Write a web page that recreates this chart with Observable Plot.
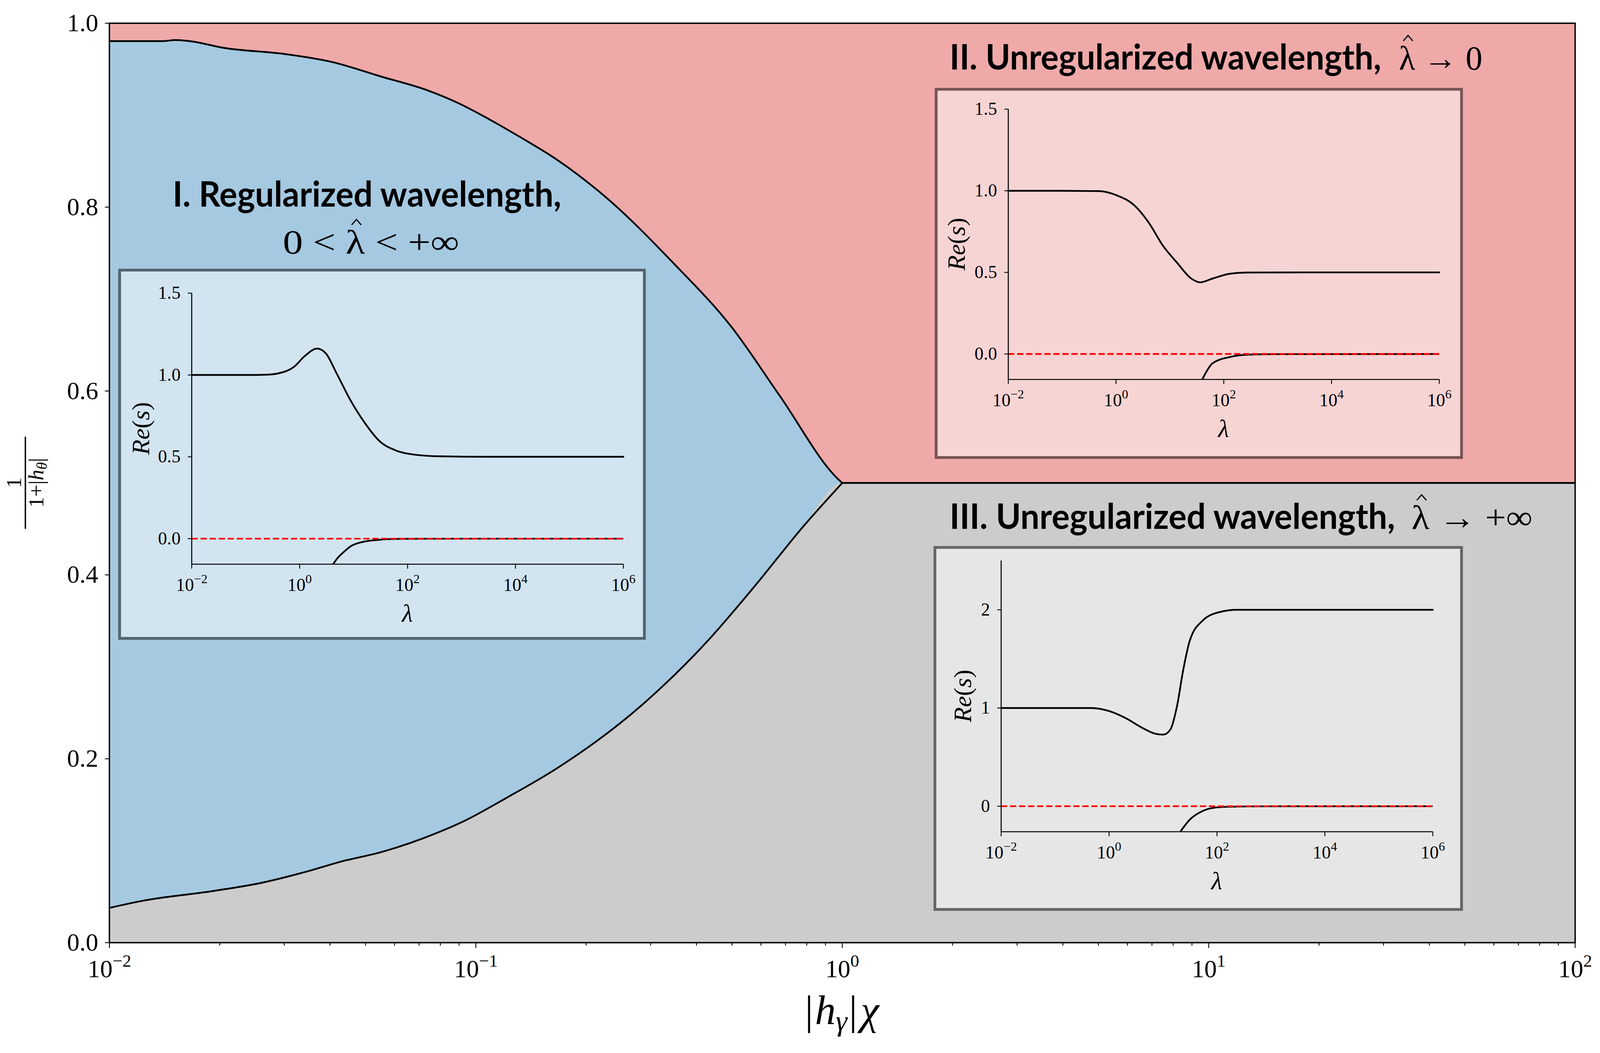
<!DOCTYPE html>
<html><head><meta charset="utf-8">
<script src="https://cdn.jsdelivr.net/npm/d3@7"></script>
<script src="https://cdn.jsdelivr.net/npm/@observablehq/plot@0.6"></script>
<style>html,body{margin:0;padding:0;background:#fff;overflow:hidden}</style>
</head><body><div id="chart"></div>
<script>
// ---------- main phase diagram data (x = |h_gamma| chi, y = 1/(1+|h_theta|)) ----------
const upperX = [0.01, 0.01406, 0.01514, 0.01652, 0.02065, 0.02999, 0.04036, 0.05534, 0.07311, 0.08933, 0.1089, 0.1318, 0.1663, 0.2275, 0.3443, 0.5000, 0.673, 0.975, 1];
const upperY = [0.9806, 0.9806, 0.9817, 0.9806, 0.973, 0.9666, 0.958, 0.9418, 0.9276, 0.9133, 0.8954, 0.8764, 0.8517, 0.810, 0.740, 0.669, 0.5956, 0.504, 0.5];
const lowerX = [0.01, 0.0123, 0.0192, 0.0258, 0.0348, 0.0427, 0.0553, 0.0719, 0.0933, 0.121, 0.1663, 0.2838, 0.4305, 0.5794, 0.78, 1];
const lowerY = [0.0378, 0.0455, 0.0562, 0.0648, 0.0777, 0.088, 0.0986, 0.1136, 0.1326, 0.1573, 0.1895, 0.2584, 0.3288, 0.3887, 0.452, 0.5];
const sepX = [1, 100];
const sepY = [0.5, 0.5];

const mainXMajor = [0.01, 0.1, 1, 10, 100];
const mainXMinor = [0.02,0.03,0.04,0.05,0.06,0.07,0.08,0.09,0.2,0.3,0.4,0.5,0.6,0.7,0.8,0.9,2,3,4,5,6,7,8,9,20,30,40,50,60,70,80,90];
const mainYTicks = [0, 0.2, 0.4, 0.6, 0.8, 1.0];

// ---------- inset data (x = lambda, y = Re(s)) ----------
const insetXTicks = [0.01, 1, 100, 1e4, 1e6];

const i1UpperL = [0.01, 0.1, 0.25, 0.43, 0.79, 1.24, 2.11, 3.09, 4.86, 8.91, 16.4, 30.0, 64.0, 136, 394, 3162, 1e6];
const i1UpperV = [1.0, 1.0, 1.002, 1.012, 1.05, 1.115, 1.161, 1.13, 1.009, 0.841, 0.704, 0.597, 0.536, 0.513, 0.503, 0.5, 0.5];
const i1LowerL = [4.17, 5.0, 6.6, 8.9, 14.8, 27, 44, 100, 1000, 1e6];
const i1LowerV = [-0.156, -0.12, -0.081, -0.046, -0.02, -0.008, -0.003, -0.001, 0, 0];

const i2UpperL = [0.01, 0.1, 0.48, 1.03, 2.2, 4.05, 7.4, 13.6, 25, 36.5, 61.7, 132, 282, 3000, 1e6];
const i2UpperV = [1.0, 1.0, 0.998, 0.972, 0.91, 0.805, 0.664, 0.559, 0.462, 0.439, 0.462, 0.492, 0.499, 0.5, 0.5];
const i2LowerL = [39.8, 49.3, 61.7, 132, 282, 1000, 1e6];
const i2LowerV = [-0.156, -0.1, -0.057, -0.018, -0.004, -0.001, 0];

const i3UpperL = [0.01, 0.47, 0.97, 2.01, 4.18, 7.23, 10.1, 13.7, 18.1, 23.8, 31.3, 54, 112, 234, 1e6];
const i3UpperV = [1.0, 1.0, 0.971, 0.898, 0.796, 0.738, 0.729, 0.781, 1.015, 1.394, 1.685, 1.889, 1.977, 2.0, 2.0];
const i3LowerL = [20.9, 31.3, 54, 93.5, 162, 1000, 1e6];
const i3LowerV = [-0.26, -0.137, -0.049, -0.014, -0.006, -0.001, 0];

const yTicks12 = [0, 0.5, 1.0, 1.5];
const yTicks3 = [0, 1, 2];

// ---------- layout: reference geometry is 5171x2696, mapped onto the actual viewport ----------
const W = window.innerWidth || 5171, H = window.innerHeight || 2696;
const sx = W / 5171, sy = H / 2696, fsc = Math.sqrt(sx * sy);
const X = v => v * sx, Y = v => v * sy, F = v => v * fsc;

const SERIF = "'Liberation Serif','DejaVu Serif',serif";
const SANS = "Lato,'Open Sans',sans-serif";
const BLUE = "#a5c9e1", RED = "#efa9a9", GREY = "#cccccc";
const NS = "http://www.w3.org/2000/svg";

const zip = (xs, ys) => xs.map((x, i) => ({x, y: ys[i]}));
const pow = d => "10^" + String(Math.round(Math.log10(d))).replace("-", "\u2212");

function supify(svg, fs) {
  svg.querySelectorAll('g[aria-label="x-axis tick label"] text').forEach(t => {
    const s = t.textContent; const i = s.indexOf("^"); if (i < 0) return;
    t.textContent = "";
    const a = document.createElementNS(NS, "tspan"); a.textContent = s.slice(0, i); t.appendChild(a);
    const b = document.createElementNS(NS, "tspan"); b.textContent = s.slice(i + 1);
    b.setAttribute("dy", -0.42 * fs); b.setAttribute("font-size", 0.7 * fs); t.appendChild(b);
  });
}

const upper = zip(upperX, upperY), lower = zip(lowerX, lowerY), sep = zip(sepX, sepY);
const greyData = lower.concat(sep);

const mainTickFont = F(72);
const main = Plot.plot({
  width: W, height: H,
  marginLeft: X(353), marginRight: X(81), marginTop: Y(59), marginBottom: Y(283),
  x: {type: "log", domain: [0.01, 100], label: null},
  y: {domain: [0, 1], label: null},
  style: {background: "white", fontFamily: SERIF, fontSize: mainTickFont + "px"},
  marks: [
    Plot.frame({fill: RED, stroke: null}),
    Plot.areaY(upper, {x: "x", y1: 0, y2: "y", fill: BLUE, curve: "monotone-x"}),
    Plot.areaY(greyData, {x: "x", y1: 0, y2: "y", fill: GREY, curve: "monotone-x"}),
    Plot.line(upper, {x: "x", y: "y", stroke: "black", strokeWidth: F(5), curve: "monotone-x"}),
    Plot.line(lower, {x: "x", y: "y", stroke: "black", strokeWidth: F(5), curve: "monotone-x"}),
    Plot.line(sep, {x: "x", y: "y", stroke: "black", strokeWidth: F(5)}),
    Plot.frame({stroke: "black", strokeWidth: F(4)}),
    Plot.axisX({ticks: mainXMinor, tickSize: Y(8), tickFormat: () => "", strokeWidth: F(2.5), label: null}),
    Plot.axisX({ticks: mainXMajor, tickSize: Y(14), tickPadding: Y(88) - Y(14) - 0.71 * mainTickFont,
                tickFormat: pow, strokeWidth: F(2.5), fontSize: mainTickFont, label: null}),
    Plot.axisY({ticks: mainYTicks, tickSize: X(14), tickPadding: X(22), tickFormat: d3.format(".1f"),
                strokeWidth: F(2.5), fontSize: mainTickFont, label: null})
  ]
});
supify(main, mainTickFont);
main.style.width = W + "px";
main.style.height = H + "px";
main.style.maxWidth = "none";
main.style.display = "block";
document.getElementById("chart").appendChild(main);
const M = d3.select(main);

// ---------- insets ----------
const insets = [
  {x: 382, y: 688, w: 1705, h: 950, ml: 237, mr: 73, mt: 62, mb: 194, yDomain: [-0.156, 1.5], yTicks: yTicks12, fmt: d3.format(".1f"),
   upper: zip(i1UpperL, i1UpperV), lower: zip(i1LowerL, i1LowerV), labX: 80},
  {x: 3021, y: 225, w: 1707, h: 950, ml: 237, mr: 77, mt: 54, mb: 204, yDomain: [-0.156, 1.5], yTicks: yTicks12, fmt: d3.format(".1f"),
   upper: zip(i2UpperL, i2UpperV), lower: zip(i2LowerL, i2LowerV), labX: 77},
  {x: 3017, y: 1398, w: 1711, h: 934, ml: 218, mr: 98, mt: 37, mb: 203, yDomain: [-0.26, 2.5], yTicks: yTicks3, fmt: d3.format("d"),
   upper: zip(i3UpperL, i3UpperV), lower: zip(i3LowerL, i3LowerV), labX: 101}
];

const insetFont = F(52), labelFont = F(72), bw = F(8);
for (const c of insets) {
  const bx = X(c.x), by = Y(c.y), bwid = X(c.w), bht = Y(c.h);
  M.append("rect").attr("x", bx + bw).attr("y", by + bw).attr("width", bwid - 2 * bw).attr("height", bht - 2 * bw)
    .attr("fill", "white").attr("fill-opacity", 0.5);
  M.append("rect").attr("x", bx + bw / 2).attr("y", by + bw / 2).attr("width", bwid - bw).attr("height", bht - bw)
    .attr("fill", "none").attr("stroke", "black").attr("stroke-opacity", 0.5).attr("stroke-width", bw);
  const s = Plot.plot({
    width: bwid, height: bht, marginLeft: X(c.ml), marginRight: X(c.mr), marginTop: Y(c.mt), marginBottom: Y(c.mb),
    x: {type: "log", domain: [0.01, 1e6], label: null},
    y: {domain: c.yDomain, label: null},
    style: {background: "none", fontFamily: SERIF, fontSize: insetFont + "px", overflow: "visible"},
    marks: [
      Plot.line(c.upper, {x: "x", y: "y", stroke: "black", strokeWidth: F(5), curve: "monotone-x"}),
      Plot.line(c.lower, {x: "x", y: "y", stroke: "black", strokeWidth: F(5), curve: "monotone-x", clip: true}),
      Plot.ruleY([0], {stroke: "red", strokeWidth: F(5), strokeDasharray: `${F(18)},${F(8)}`}),
      Plot.ruleY([c.yDomain[0]], {stroke: "black", strokeWidth: F(3)}),
      Plot.ruleX([0.01], {stroke: "black", strokeWidth: F(3)}),
      Plot.axisX({ticks: insetXTicks, tickFormat: pow, tickSize: Y(12), tickPadding: Y(68) - Y(12) - 0.71 * insetFont,
                  strokeWidth: F(2.5), fontSize: insetFont, label: null}),
      Plot.axisY({ticks: c.yTicks, tickFormat: c.fmt, tickSize: X(12), tickPadding: X(24),
                  strokeWidth: F(2.5), fontSize: insetFont, label: null})
    ]
  });
  supify(s, insetFont);
  s.setAttribute("x", bx); s.setAttribute("y", by);
  s.style.width = bwid + "px";
  s.style.height = bht + "px";
  s.style.maxWidth = "none";
  main.appendChild(s);
  const midY = Y(c.y + c.mt + (c.h - c.mt - c.mb) / 2);
  const axBottom = c.y + c.h - c.mb;
  const axMidX = X(c.x + c.ml + (c.w - c.ml - c.mr) / 2);
  const yl = M.append("text").attr("transform", `translate(${X(c.x + c.labX)},${midY}) rotate(-90)`)
    .attr("y", labelFont * 0.25).attr("text-anchor", "middle").attr("font-family", SERIF).attr("font-size", labelFont);
  yl.append("tspan").attr("font-style", "italic").text("Re");
  yl.append("tspan").text("(");
  yl.append("tspan").attr("font-style", "italic").text("s");
  yl.append("tspan").text(")");
  M.append("text").attr("x", axMidX).attr("y", Y(axBottom + 148)).attr("text-anchor", "middle")
    .attr("font-family", SERIF).attr("font-style", "italic").attr("font-size", labelFont).text("λ");
}

// ---------- main axis labels ----------
const xf = F(120);
const xl = M.append("text").attr("x", X(2721)).attr("y", Y(2622)).attr("text-anchor", "middle")
  .attr("font-family", SERIF).attr("font-size", xf);
xl.append("tspan").text("|");
xl.append("tspan").attr("font-style", "italic").attr("dx", xf * 0.04).text("h");
xl.append("tspan").attr("font-style", "italic").attr("font-size", xf * 0.7).attr("dy", xf * 0.15).text("γ");
xl.append("tspan").attr("dy", -xf * 0.15).attr("dx", xf * 0.04).text("|");
xl.append("tspan").attr("font-style", "italic").attr("dx", xf * 0.08).text("χ");

const yf = F(62);
const yg = M.append("g").attr("transform", `translate(${X(82)},${Y(1236)}) rotate(-90)`)
  .attr("font-family", SERIF).attr("font-size", yf).attr("text-anchor", "middle");
yg.append("text").attr("y", -X(14)).text("1");
yg.append("line").attr("x1", -Y(118)).attr("x2", Y(118)).attr("stroke", "black").attr("stroke-width", F(4));
const den = yg.append("text").attr("y", X(58));
den.append("tspan").text("1+|");
den.append("tspan").attr("font-style", "italic").text("h");
den.append("tspan").attr("font-style", "italic").attr("font-size", yf * 0.7).attr("dy", yf * 0.16).text("θ");
den.append("tspan").attr("dy", -yf * 0.16).text("|");

// ---------- region titles ----------
function boldText(x, y, str, len) {
  M.append("text").attr("x", X(x)).attr("y", Y(y)).attr("text-anchor", "start").attr("font-family", SANS)
    .attr("font-weight", 700).attr("font-size", F(100))
    .attr("textLength", X(len)).attr("lengthAdjust", "spacingAndGlyphs").text(str);
}
function mathText(x, y, str, len, lamIndex) {
  const fs = F(98);
  const t = M.append("text").attr("x", X(x)).attr("y", Y(y)).attr("text-anchor", "start").attr("font-family", SERIF)
    .attr("font-size", fs).attr("textLength", X(len)).attr("lengthAdjust", "spacingAndGlyphs").text(str);
  let cx = X(x) + fs * 0.25;
  try {
    const e = t.node().getExtentOfChar(lamIndex);
    cx = e.x + e.width / 2;
  } catch (err) {}
  cx += fs * 0.03;
  const base = Y(y), hw = fs * 0.14;
  // circumflex accent over lambda (drawn as a small caret)
  M.append("path")
    .attr("d", `M${cx - hw},${base - fs * 0.84}L${cx},${base - fs * 1.0}L${cx + hw},${base - fs * 0.84}`)
    .attr("fill", "none").attr("stroke", "black").attr("stroke-width", fs * 0.035).attr("stroke-linejoin", "miter");
}
boldText(558, 529, "I. Regularized wavelength,", 1256);
mathText(914, 649, "0 < λ < +∞", 570, 4);
boldText(3069, 178, "II. Unregularized wavelength,", 1395);
mathText(4521, 178, "λ → 0", 270, 0);
boldText(3069, 1354, "III. Unregularized wavelength,", 1440);
mathText(4562, 1354, "λ → +∞", 391, 0);
</script>
</body></html>
